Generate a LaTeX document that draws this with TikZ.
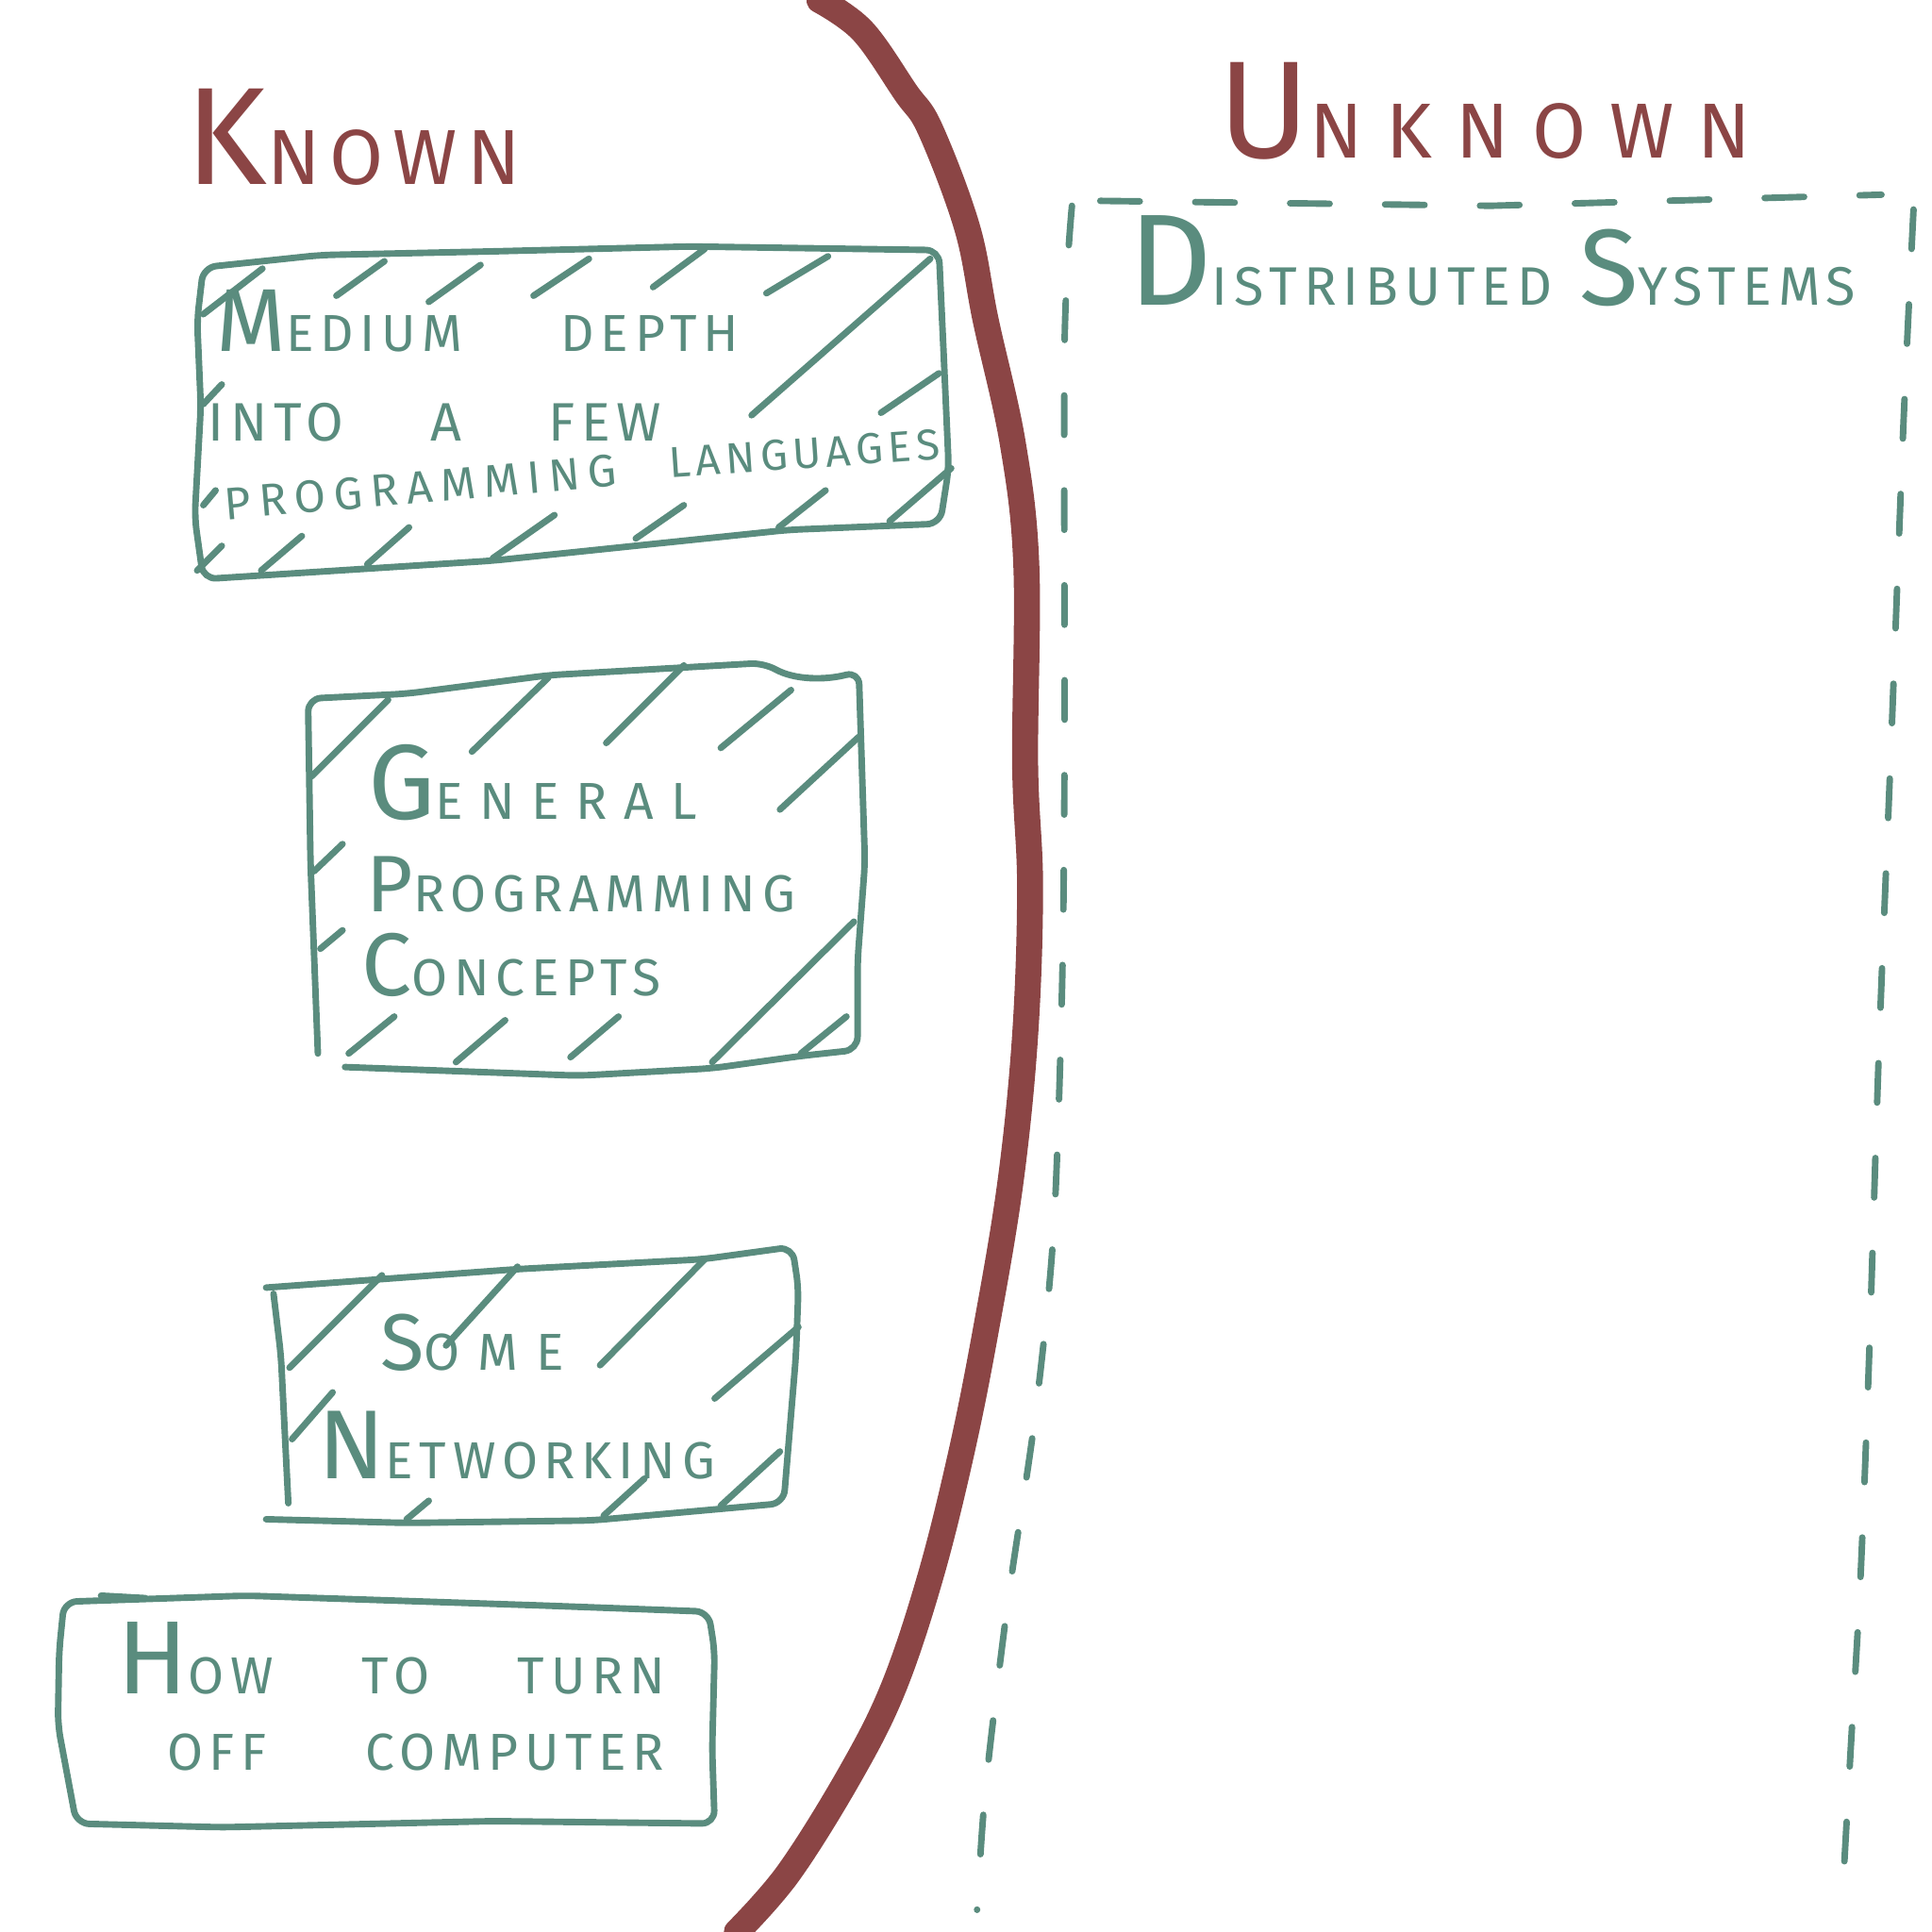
\documentclass[tikz,border=0pt]{standalone}
\usepackage{fontspec}
\usepackage{tikz}
\usetikzlibrary{positioning}
\newfontfamily\handfont[LetterSpace=12]{Fira Sans}
\newcommand\capl[2]{{\fontsize{#1}{#1}\selectfont #2}}
\newcommand\wgap[1][0.9em]{\hspace{#1}}
\definecolor{sketchgreen}{HTML}{5A8C7E}
\definecolor{sketchred}{HTML}{8B4545}

\begin{document}
\begin{tikzpicture}[
  x=0.01cm, y=-0.01cm,
  line cap=round, line join=round,
  outline/.style={draw=sketchgreen, line width=1.5pt, rounded corners=3pt},
  hatch/.style={draw=sketchgreen, line width=1.5pt},
  divide/.style={draw=sketchred, line width=6pt},
  frame/.style={draw=sketchgreen, line width=1.5pt, dash pattern=on 0.32cm off 0.45cm},
  title/.style={text=sketchred, anchor=base west, inner sep=0pt, font=\handfont\fontsize{18}{20}\selectfont},
  lbl/.style={text=sketchgreen, anchor=base west, inner sep=0pt, font=\handfont\fontsize{12}{14}\selectfont}
]
\useasboundingbox (0,0) rectangle (1568,1568);
% dividing line
\draw[divide] plot[smooth, tension=0.6] coordinates {(665,0) (700,25) (735,75) (755,105) (785,185) (800,260) (822,360) (833,460) (832,620) (836,720) (832,840) (820,960) (800,1080) (780,1180) (755,1280) (725,1370) (690,1440) (640,1520) (598,1568)};
% headings
\node[title] (known) at (150,150) {\capl{32}{K}NOWN};
\node[title] (unknown) at (988,128) {\addfontfeatures{LetterSpace=30}\capl{32}{U}NKNOWN};
% unknown area
\draw[frame] plot[smooth] coordinates {(870,167) (864,280) (864,600) (862,800) (855,1000) (840,1150) (818,1300) (800,1450) (793,1550)};
\draw[frame] plot[smooth] coordinates {(1553,170) (1545,340) (1535,600) (1525,850) (1517,1100) (1510,1280) (1502,1420) (1495,1545)};
\draw[frame] (893,163) -- (1210,167) -- (1527,158);
\node[lbl, font=\handfont\fontsize{12.5}{14}\selectfont] (dist) at (915,248) {\capl{30}{D}ISTRIBUTED\wgap[0.5em]\capl{25}{S}YSTEMS};
% box 1
\draw[outline] (165,217) -- (260,207) -- (400,204) -- (560,200) -- (762,203) -- (766,290) -- (770,380) -- (763,425) -- (640,430) -- (400,455) -- (165,470) -- (158,420) -- (163,330) -- (160,260) -- cycle;
\foreach \xa/\ya/\xb/\yb in {165/255/213/218, 273/240/312/212, 348/245/390/215, 433/240/478/210, 530/233/572/202, 622/238/672/208, 610/337/755/210, 165/328/180/312, 715/335/762/303, 165/410/175/398, 160/463/180/443, 212/463/245/435, 298/458/332/428, 400/453/450/418, 516/437/555/410, 632/428/670/398, 722/423/772/380}
  \draw[hatch] (\xa,\ya) -- (\xb,\yb);
\node[lbl] (med) at (175,285) {\capl{20.6}{M}EDIUM\wgap[1.9em]DEPTH};
\node[lbl, font=\handfont\fontsize{12.5}{14}\selectfont] (into) at (168,358) {INTO\wgap[1.6em]A\wgap[1.6em]FEW};
\node[lbl, rotate=5, font=\handfont\fontsize{10.5}{12}\selectfont] (prog) at (183,422) {\addfontfeatures{LetterSpace=18}PROGRAMMING};
\node[lbl, rotate=4, font=\handfont\fontsize{10}{12}\selectfont] (lang) at (543,388) {LANGUAGES};
% box 2
\draw[outline] (280,866) -- (470,873) -- (578,867) -- (650,857) -- (696,852) -- (696,780) -- (702,700) -- (697,545) .. controls (670,552) and (645,552) .. (620,538) -- (445,548) -- (330,563) -- (250,567) -- (252,700) -- (258,855);
\foreach \xa/\ya/\xb/\yb in {253/630/315/568, 383/610/445/550, 492/603/555/540, 585/607/642/560, 633/657/697/598, 255/707/278/685, 260/770/278/755, 283/855/320/825, 370/862/410/828, 463/858/502/825, 578/862/693/748, 650/855/687/825}
  \draw[hatch] (\xa,\ya) -- (\xb,\yb);
\node[lbl] (gen) at (298,665) {\addfontfeatures{LetterSpace=32}\capl{24.6}{G}ENERAL};
\node[lbl] (gprog) at (297,740) {\capl{18.5}{P}ROGRAMMING};
\node[lbl] (conc) at (293,808) {\capl{20.6}{C}ONCEPTS};
% box 3
\draw[outline] (216,1045) -- (420,1030) -- (570,1022) -- (643,1012) -- (648,1045) -- (646,1100) -- (636,1220) -- (480,1234) -- (330,1236) -- (216,1233);
\draw[outline] (222,1050) -- (228,1100) -- (234,1220);
\foreach \xa/\ya/\xb/\yb in {235/1110/310/1035, 362/1092/420/1028, 487/1108/572/1022, 237/1168/270/1130, 330/1233/348/1218, 490/1230/523/1200, 580/1135/648/1077, 585/1222/633/1178}
  \draw[hatch] (\xa,\ya) -- (\xb,\yb);
\node[lbl] (some) at (308,1112) {\addfontfeatures{LetterSpace=35}\capl{18.5}{S}OME};
\node[lbl] (net) at (258,1200) {\capl{22.6}{N}ETWORKING};
% box 4
\draw[outline] (52,1300) -- (200,1295) -- (440,1303) -- (575,1308) -- (580,1340) -- (578,1420) -- (580,1480) -- (400,1478) -- (180,1483) -- (62,1480) -- (47,1400) -- (48,1340) -- cycle;
\draw[hatch] (82,1295) -- (118,1297);
\node[lbl] (how) at (95,1375) {\capl{24}{H}OW\wgap[1.7em]TO\wgap[1.7em]TURN};
\node[lbl] (off) at (135,1437) {OFF\wgap[1.9em]COMPUTER};
\end{tikzpicture}
\end{document}
